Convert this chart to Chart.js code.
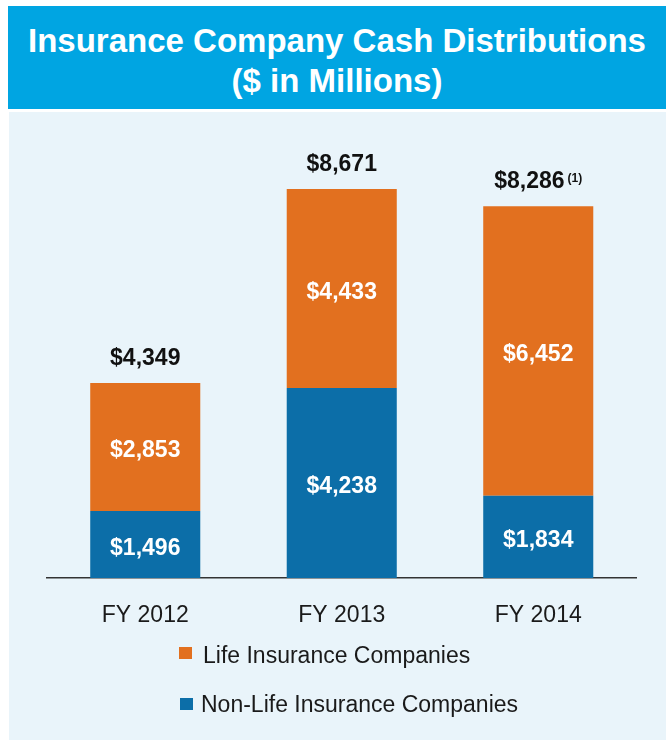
<!DOCTYPE html>
<html>
<head>
<meta charset="utf-8">
<script src="https://cdn.jsdelivr.net/npm/chart.js@4.4.1/dist/chart.umd.min.js"></script>
<style>
  html, body { margin: 0; padding: 0; background: #ffffff; }
  #wrap { position: relative; width: 666px; height: 740px; overflow: hidden; background: #ffffff;
          font-family: "Liberation Sans", Arial, sans-serif; }
  #banner { position: absolute; left: 8px; top: 6px; width: 658px; height: 103px; background: #00a5e2; }
  #title { position: absolute; left: 8px; top: 21.4px; width: 658px; text-align: center; color: #ffffff;
           font-weight: bold; font-size: 33px; line-height: 40px; white-space: nowrap; }
  #panel { position: absolute; left: 9px; top: 112px; width: 657px; height: 628px; background: #e9f4fa; }
  #chart { position: absolute; left: 0; top: 0; }
  .leg { position: absolute; font-size: 23px; line-height: 30px; color: #1a1a1a; white-space: nowrap; }
  .sw { position: absolute; width: 13px; height: 12px; }
</style>
</head>
<body>
<div id="wrap">
  <div id="banner"></div>
  <div id="title"></div>
  <div id="panel"></div>
  <canvas id="chart" width="666" height="740"></canvas>
  <div id="legend"></div>
</div>
<script>
// ---- data ----
const titleLines = ["Insurance Company Cash Distributions", "($ in Millions)"];
const categories = ["FY 2012", "FY 2013", "FY 2014"];
const nonLifeValues = [1496, 4238, 1834];
const lifeValues = [2853, 4433, 6452];
const totalValues = [4349, 8671, 8286];
const totalFootnotes = ["", "", "(1)"];
const seriesNames = ["Non-Life Insurance Companies", "Life Insurance Companies"];
const legendOrder = ["Life Insurance Companies", "Non-Life Insurance Companies"];

// ---- styles ----
const COLORS = { "Non-Life Insurance Companies": "#0c6ea8", "Life Insurance Companies": "#e2701f" };
const FONT = '"Liberation Sans", Arial, sans-serif';

document.getElementById('title').innerHTML = titleLines.map(t => '<div>' + t.replace(/\$/g, '&#36;') + '</div>').join('');

const fmt = v => '$' + v.toLocaleString('en-US');

const labelPlugin = {
  id: 'labels',
  afterDatasetsDraw(chart) {
    const ctx = chart.ctx;
    ctx.save();
    ctx.textAlign = 'center';
    ctx.textBaseline = 'middle';
    ctx.fillStyle = '#ffffff';
    ctx.font = 'bold 23px ' + FONT;
    chart.data.datasets.forEach((ds, di) => {
      const meta = chart.getDatasetMeta(di);
      meta.data.forEach((bar, i) => {
        const y = (bar.y + bar.base) / 2 + 4;
        ctx.fillText(fmt(ds.data[i]), bar.x, y);
      });
    });
    // totals
    const topMeta = chart.getDatasetMeta(chart.data.datasets.length - 1);
    const yScale = chart.scales.y;
    topMeta.data.forEach((bar, i) => {
      const yTop = yScale.getPixelForValue(totalValues[i]);
      const main = fmt(totalValues[i]);
      const note = totalFootnotes[i];
      ctx.font = 'bold 23px ' + FONT;
      const wMain = ctx.measureText(main).width;
      ctx.font = 'bold 12px ' + FONT;
      const wNote = note ? ctx.measureText(note).width + 3 : 0;
      const startX = bar.x - (wMain + wNote) / 2;
      const baseY = yTop - 18;
      ctx.textAlign = 'left';
      ctx.textBaseline = 'alphabetic';
      ctx.fillStyle = '#111111';
      ctx.font = 'bold 23px ' + FONT;
      ctx.fillText(main, startX, baseY);
      if (note) {
        ctx.font = 'bold 12px ' + FONT;
        ctx.fillText(note, startX + wMain + 3, baseY - 6);
      }
    });
    ctx.restore();
  }
};

const datasets = seriesNames.map((name, k) => ({
  label: name,
  data: k === 0 ? nonLifeValues : lifeValues,
  backgroundColor: COLORS[name],
  borderWidth: 0,
  categoryPercentage: 1.0,
  barPercentage: 0.56
}));

new Chart(document.getElementById('chart'), {
  type: 'bar',
  data: { labels: categories, datasets },
  plugins: [labelPlugin],
  options: {
    responsive: false,
    animation: false,
    layout: { padding: { left: 47, right: 29.5, top: 129.4, bottom: 0 } },
    plugins: { legend: { display: false }, tooltip: { enabled: false }, title: { display: false } },
    scales: {
      x: {
        stacked: true,
        grid: { display: false, drawTicks: false },
        border: { display: true, color: '#333333', width: 1.5 },
        ticks: { color: '#1a1a1a', font: { family: FONT, size: 23 }, padding: 24 },
        afterFit(scale) { scale.height = 162; }
      },
      y: {
        stacked: true,
        display: false,
        min: 0,
        max: 10000
      }
    }
  }
});

// legend (HTML)
const legendTops = [640, 689];
const swatchTops = [647, 698];
const legendEl = document.getElementById('legend');
legendOrder.forEach((name, i) => {
  const sw = document.createElement('div');
  sw.className = 'sw';
  sw.style.left = (179 + i) + 'px';
  sw.style.top = swatchTops[i] + 'px';
  sw.style.background = COLORS[name];
  legendEl.appendChild(sw);
  const t = document.createElement('div');
  t.className = 'leg';
  t.style.left = (203 - 2 * i) + 'px';
  t.style.top = legendTops[i] + 'px';
  t.textContent = name;
  legendEl.appendChild(t);
});
</script>
</body>
</html>
